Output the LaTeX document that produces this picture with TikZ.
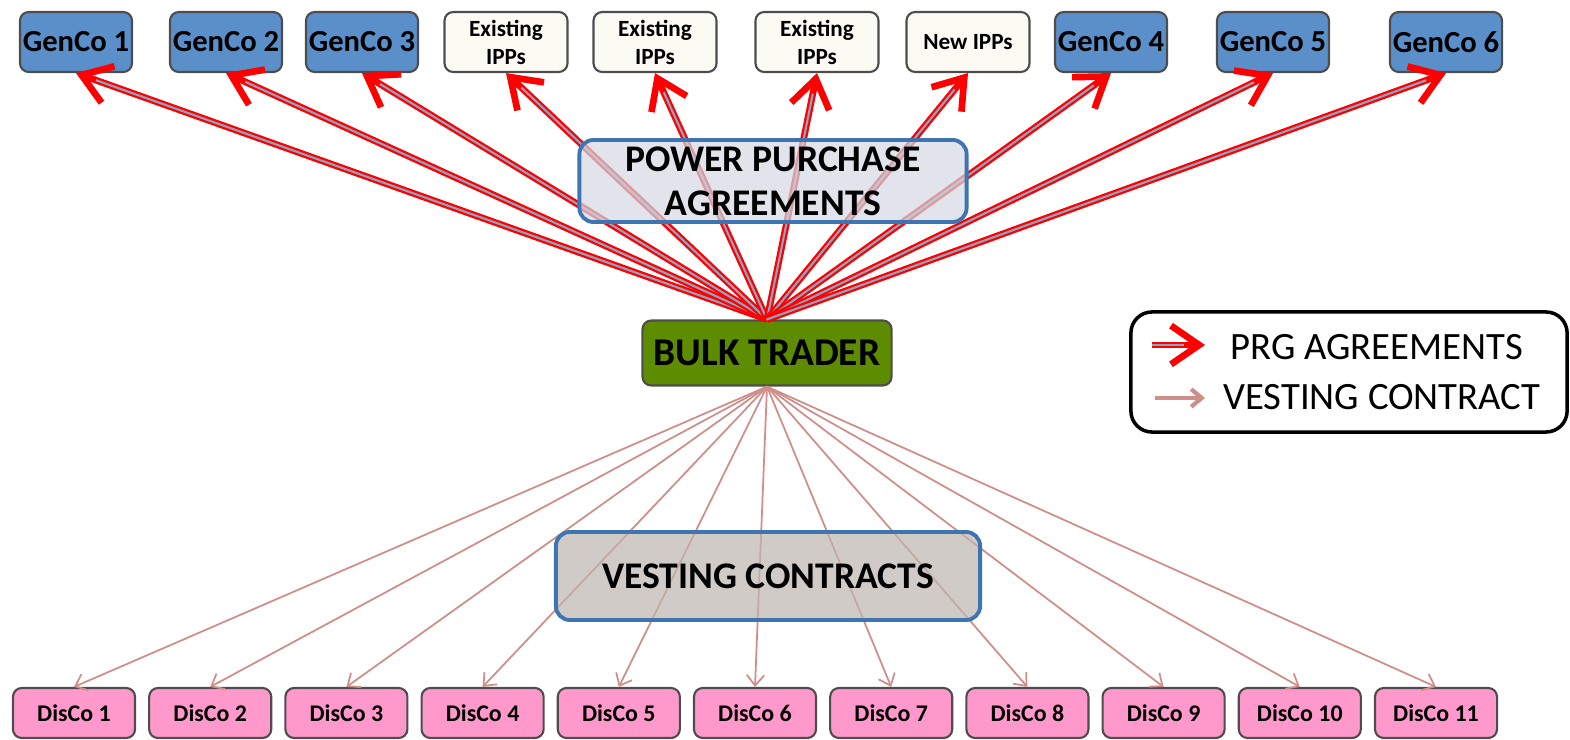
\documentclass[tikz,border=0pt]{standalone}
\usepackage{fontspec}
\setmainfont{Carlito}
\usetikzlibrary{arrows.meta}
\definecolor{gencoblue}{HTML}{5B8FC9}
\definecolor{ippwhite}{HTML}{FBFAF3}
\definecolor{tradergreen}{HTML}{5E8C00}
\definecolor{ppagray}{HTML}{D4D9E1}
\definecolor{boxblue}{HTML}{3F74B3}
\definecolor{vcgray}{HTML}{BDB5B0}
\definecolor{discopink}{HTML}{FF99CC}
\definecolor{vestline}{HTML}{CF8E8A}
\definecolor{prginner}{HTML}{8FA3C2}
\definecolor{edgegray}{HTML}{4D4D4D}

\begin{document}
\begin{tikzpicture}[x=0.01cm, y=-0.01cm,
		gen/.style={draw=edgegray, line width=0.6pt, rounded corners=2.5pt, fill=gencoblue,
			minimum width=1.12cm, minimum height=0.6cm, inner sep=0pt,
			font=\fontsize{8.7}{9}\selectfont\bfseries},
		ipp/.style={gen, fill=ippwhite, minimum width=1.23cm, align=center,
			font=\fontsize{6.6}{8}\selectfont\bfseries},
		dis/.style={gen, fill=discopink, minimum width=1.22cm, minimum height=0.5cm,
			font=\fontsize{6.8}{8}\selectfont\bfseries},
		banner/.style={draw=boxblue, line width=1.1pt, rounded corners=4pt, fill opacity=0.7,
			text opacity=1, align=center, inner sep=0pt,
			font=\fontsize{10.7}{12.5}\selectfont\bfseries},
		prg/.style={red, line width=1.9pt, -{Straight Barb[length=8pt, width=11pt, line width=1.9pt]},
			postaction={draw=prginner, line width=0.6pt, -, shorten >=6pt}},
		vest/.style={vestline, line width=0.5pt, -{Straight Barb[length=3pt, width=5pt]}}]
		\useasboundingbox (0,0) rectangle (1570,740);

		\node[gen] at (76,42) (g1) {GenCo 1};
		\node[gen] at (226,42) (g2) {GenCo 2};
		\node[gen] at (362,42) (g3) {GenCo 3};
		\node[ipp] at (506,42) (e1) {Existing\\IPPs};
		\node[ipp] at (655,42) (e2) {Existing\\IPPs};
		\node[ipp] at (817,42) (e3) {Existing\\IPPs};
		\node[ipp] at (968,42) (n1) {New IPPs};
		\node[gen] at (1111,42) (g4) {GenCo 4};
		\node[gen] at (1273,42) (g5) {GenCo 5};
		\node[gen] at (1446,42) (g6) {GenCo 6};

		\node[gen, fill=tradergreen, minimum width=2.49cm, minimum height=0.65cm,
			font=\fontsize{11.2}{13}\selectfont\bfseries] at (767,353) (bt) {BULK TRADER};

		\foreach \i in {1,...,11}
			\node[dis] at ({74+136.2*(\i-1)},713) (d\i) {DisCo \i};

		\foreach \n in {g1,g2,g3,e1,e2,e3,n1,g4,g5,g6}
			\draw[prg] (bt.north) -- (\n.south);
		\foreach \i in {1,...,11}
			\draw[vest] (bt.south) -- (d\i.north);

		\node[banner, fill=ppagray, minimum width=3.87cm, minimum height=0.82cm] at (773,181) (ppa)
			{POWER PURCHASE\\AGREEMENTS};
		\node[banner, fill=vcgray, minimum width=4.24cm, minimum height=0.88cm] at (768,576) (vc)
			{VESTING CONTRACTS};

		% key
		\node[draw, line width=1pt, rounded corners=6pt, minimum width=4.36cm, minimum height=1.2cm]
			at (1349,372) (key) {};
		\coordinate (k1a) at (1152,345);
		\coordinate (k1b) at (1205,345);
		\coordinate (k2a) at (1155,398);
		\coordinate (k2b) at (1205,398);
		\draw[prg] (k1a) -- (k1b);
		\draw[vest, line width=1.2pt] (k2a) -- (k2b);
		\node[anchor=west, font=\fontsize{11}{13}\selectfont] at (1218,347) (k1t) {PRG AGREEMENTS};
		\node[anchor=west, font=\fontsize{11}{13}\selectfont] at (1211,397) (k2t) {VESTING CONTRACT};
\end{tikzpicture}
\end{document}
